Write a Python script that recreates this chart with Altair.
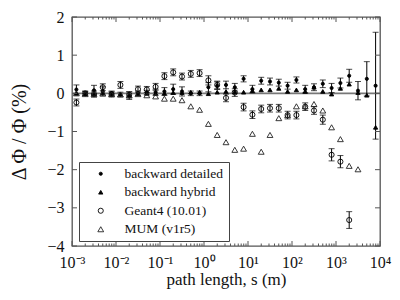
import altair as alt
import pandas as pd

# path length positions (m)
x_vals = [0.001259, 0.001995, 0.003162, 0.005012, 0.007943,
          0.01259, 0.01995, 0.03162, 0.05012, 0.07943,
          0.1259, 0.1995, 0.3162, 0.5012, 0.7943,
          1.259, 1.995, 3.162, 5.012, 7.943,
          12.59, 19.95, 31.62, 50.12, 79.43,
          125.9, 199.5, 316.2, 501.2, 794.3,
          1259.0, 1995.0, 3162.0, 5012.0, 7943.0]

detailed = [0.10, 0.00, 0.08, 0.05, 0.00, -0.03, -0.06, 0.00, 0.02, 0.03,
            0.05, 0.11, 0.05, 0.00, 0.00, 0.16, 0.20, 0.22, 0.16, 0.38,
            0.11, 0.33, 0.31, 0.28, 0.20, 0.35, 0.11, 0.16, 0.25, 0.14,
            0.27, 0.46, 0.07, 0.38, 0.20]
detailed_err = [0.12, 0.05, 0.13, 0.12, 0.06, 0.06, 0.10, 0.06, 0.06, 0.08,
                0.10, 0.13, 0.12, 0.06, 0.06, 0.12, 0.10, 0.10, 0.10, 0.08,
                0.10, 0.09, 0.09, 0.09, 0.09, 0.08, 0.10, 0.09, 0.10, 0.12,
                0.13, 0.17, 0.24, 0.45, 1.40]

hybrid = [0.00, 0.00, 0.00, 0.02, 0.00, -0.02, -0.04, 0.00, 0.00, 0.00,
          0.00, 0.02, 0.02, 0.03, 0.03, -0.01, 0.03, 0.05, 0.04, 0.03,
          0.07, 0.09, 0.09, 0.13, 0.05, 0.09, 0.05, 0.16, 0.05, -0.02,
          0.13, 0.24, 0.02, -0.05, -0.89]

geant4 = [-0.24, 0.00, -0.02, 0.16, -0.02, 0.22, -0.04, 0.11, 0.10, 0.17,
          0.45, 0.55, 0.44, 0.51, 0.53, 0.34, 0.22, -0.12, 0.02, -0.36,
          -0.56, -0.41, -0.39, -0.39, -0.57, -0.57, -0.35, -0.45, -0.69, -1.61,
          -1.79, -3.32]
geant4_err = [0.09, 0.06, 0.08, 0.09, 0.06, 0.09, 0.08, 0.08, 0.08, 0.09,
              0.09, 0.09, 0.09, 0.09, 0.09, 0.12, 0.10, 0.10, 0.10, 0.10,
              0.10, 0.10, 0.10, 0.10, 0.10, 0.10, 0.10, 0.10, 0.12, 0.16,
              0.16, 0.22]

mum = [0.00, -0.02, -0.02, 0.00, -0.03, -0.03, -0.05, -0.02, -0.05, -0.08,
       -0.14, -0.14, -0.18, -0.34, -0.43, -0.80, -1.09, -1.28, -1.48, -1.45,
       -1.06, -1.53, -1.09, -0.65, -0.57, -0.34, -0.34, -0.28, -0.45, -0.89,
       -1.20, -1.90, -1.99]

series_names = ["backward detailed", "backward hybrid", "Geant4 (10.01)", "MUM (v1r5)"]
series_shapes = ["circle", "triangle-up", "circle", "triangle-up"]
series_fills = ["black", "black", "transparent", "transparent"]
series_strokes = ["black", "black", "black", "#222"]
series_sizes = [10, 34, 34, 22]

x_major = [0.001, 0.01, 0.1, 1, 10, 100, 1000, 10000]
x_tick_labels = ["10⁻³", "10⁻²", "10⁻¹", "10⁰", "10¹", "10²", "10³", "10⁴"]
x_minor = [d * m for d in x_major[:-1] for m in range(2, 10)]
y_major = [-4, -3, -2, -1, 0, 1, 2]

W, H = 308, 229

# tables
pts_rows = []
for name, ys in zip(series_names, [detailed, hybrid, geant4, mum]):
    for xv, yv in zip(x_vals, ys):
        pts_rows.append({"x": xv, "y": yv, "series": name})
pts = pd.DataFrame(pts_rows)

err_rows = []
for ys, es in [(detailed, detailed_err), (geant4, geant4_err)]:
    for xv, yv, ev in zip(x_vals, ys, es):
        err_rows.append({"x": xv, "lo": yv - ev, "hi": yv + ev})
err = pd.DataFrame(err_rows)

# label expression from tick labels
expr = "'" + x_tick_labels[-1] + "'"
for v, lab in reversed(list(zip(x_major[:-1], x_tick_labels[:-1]))):
    expr = f"datum.value < {v * 3.0} ? '{lab}' : " + expr

xscale = alt.Scale(type="log", domain=[0.001, 10000], nice=False)
yscale = alt.Scale(domain=[-4, 2], nice=False, zero=False)

FONT = "Liberation Serif"
XT = "path length, s (m)"
YT = "Δ Φ / Φ (%)"

xaxis = alt.Axis(values=x_major, labelExpr=expr, ticks=False, domain=False, grid=False,
                 labelFontSize=16, labelPadding=8, titleFontSize=17, titlePadding=1,
                 labelFlush=False, labelOverlap=False)
yaxis = alt.Axis(values=y_major, ticks=False, domain=False, grid=False,
                 labelFontSize=16, labelPadding=8, titleFontSize=20, titlePadding=17,
                 labelFlush=False, labelOverlap=False)

def X(field):
    return alt.X(field, scale=xscale, axis=xaxis, title=XT)

def Y(field):
    return alt.Y(field, scale=yscale, axis=yaxis, title=YT)

zero = alt.Chart(pd.DataFrame({"v": [0]})).mark_rule(color="#777", strokeWidth=1.8).encode(
    y=Y("v:Q")
)

bars = alt.Chart(err).mark_rule(color="black", strokeWidth=1).encode(
    x=X("x:Q"), y=Y("lo:Q"), y2="hi:Q",
)
caps_lo = alt.Chart(err).mark_tick(color="black", orient="horizontal", size=6, thickness=1).encode(
    x=X("x:Q"), y=Y("lo:Q")
)
caps_hi = alt.Chart(err).mark_tick(color="black", orient="horizontal", size=6, thickness=1).encode(
    x=X("x:Q"), y=Y("hi:Q")
)

leg = alt.Legend(title=None)
points = alt.Chart(pts).mark_point(strokeWidth=0.9, opacity=1).encode(
    x=X("x:Q"),
    y=Y("y:Q"),
    shape=alt.Shape("series:N", scale=alt.Scale(domain=series_names, range=series_shapes), legend=leg),
    fill=alt.Fill("series:N", scale=alt.Scale(domain=series_names, range=series_fills), legend=leg),
    stroke=alt.Stroke("series:N", scale=alt.Scale(domain=series_names, range=series_strokes), legend=leg),
    size=alt.Size("series:N", scale=alt.Scale(domain=series_names, range=series_sizes), legend=leg),
)

# inward axis ticks
tick_color = "#555"
xt_major = pd.DataFrame({"t": x_major})
xt_minor = pd.DataFrame({"t": x_minor})
yt_major = pd.DataFrame({"t": y_major})

def xticks(df, length):
    bot = alt.Chart(df).mark_rule(color=tick_color, strokeWidth=1).encode(
        x=X("t:Q"), y=alt.value(H), y2=alt.value(H - length))
    top = alt.Chart(df).mark_rule(color=tick_color, strokeWidth=1).encode(
        x=X("t:Q"), y=alt.value(0), y2=alt.value(length))
    return [bot, top]

left = alt.Chart(yt_major).mark_rule(color=tick_color, strokeWidth=1).encode(
    y=Y("t:Q"), x=alt.value(0), x2=alt.value(5))
right = alt.Chart(yt_major).mark_rule(color=tick_color, strokeWidth=1).encode(
    y=Y("t:Q"), x=alt.value(W), x2=alt.value(W - 5))

layers = [zero, bars, caps_lo, caps_hi, points] + xticks(xt_major, 5) + xticks(xt_minor, 2.5) + [left, right]

chart = alt.layer(*layers).properties(
    width=W, height=H,
    padding={"left": 64, "top": 9, "right": 12, "bottom": 46},
    autosize="none",
).configure_view(
    stroke="#555", strokeWidth=1.3
).configure_axis(
    labelFont=FONT, titleFont=FONT, labelColor="#111", titleColor="#111", titleFontWeight="normal"
).configure_legend(
    orient="none", legendX=7, legendY=145,
    strokeColor="#444", fillColor="white", padding=5,
    labelFont=FONT, labelFontSize=13.5, labelColor="#111", labelOffset=17,
    rowPadding=3.5, symbolStrokeWidth=0.9, symbolSize=14,
    symbolOffset=10, cornerRadius=0
)

chart.save("out.html", embed_options={"renderer": "svg", "actions": False})
